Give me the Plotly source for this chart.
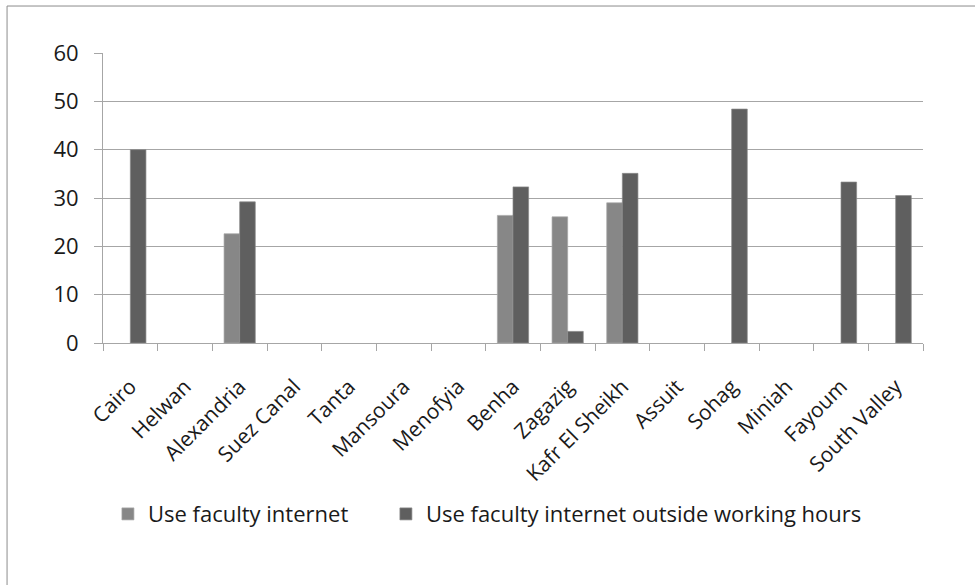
import plotly.graph_objects as go

universities = ["Cairo", "Helwan", "Alexandria", "Suez Canal", "Tanta", "Mansoura",
                "Menofyia", "Benha", "Zagazig", "Kafr El Sheikh", "Assuit", "Sohag",
                "Miniah", "Fayoum", "South Valley"]
# None = no bar reported for that university
use_internet = [None, None, 22.6, None, None, None, None, 26.4, 26.1, 29.0,
                None, None, None, None, None]
use_outside_hours = [40.0, None, 29.2, None, None, None, None, 32.3, 2.4, 35.1,
                     None, 48.4, None, 33.3, 30.5]
y_ticks = [0, 10, 20, 30, 40, 50, 60]

FONT = "Open Sans"
TXT = "#1a1a1a"
GRID = "#a6a6a6"

fig = go.Figure()
fig.add_trace(go.Bar(
    x=universities, y=use_internet, name="Use faculty internet",
    marker=dict(color="#878787", line=dict(color="#a8a8a8", width=0.7)),
    legend="legend",
))
fig.add_trace(go.Bar(
    x=universities, y=use_outside_hours, name="Use faculty internet outside working hours",
    marker=dict(color="#5f5f5f", line=dict(color="#8a8a8a", width=0.7)),
    legend="legend2",
))

legend_common = dict(orientation="h", xanchor="left", y=-0.59, yanchor="middle",
                     font=dict(family=FONT, size=22, color=TXT),
                     itemwidth=30, bgcolor="rgba(0,0,0,0)")

fig.update_layout(
    width=975, height=585,
    margin=dict(l=103, r=52, t=53, b=242),
    paper_bgcolor="white", plot_bgcolor="white",
    barmode="group", bargap=0.4286, bargroupgap=0,
    font=dict(family=FONT, size=21, color=TXT),
    showlegend=True,
    legend=dict(x=0.006, **legend_common),
    legend2=dict(x=0.345, **legend_common),
    shapes=[dict(type="rect", xref="paper", yref="paper",
                 x0=-0.117, x1=1.2, y0=-1.2, y1=1.162,
                 line=dict(color="#8c8c8c", width=1), fillcolor="rgba(0,0,0,0)",
                 layer="below")],
)

fig.update_xaxes(
    type="category", tickangle=-45, tickson="boundaries",
    ticks="outside", ticklen=7, tickcolor=GRID, tickwidth=1,
    showline=True, linecolor=GRID, linewidth=1, showgrid=False,
    tickfont=dict(family=FONT, size=21, color=TXT),
    ticklabelstandoff=22,
)
fig.update_yaxes(
    range=[0, 60], tickvals=y_ticks, ticks="outside", ticklen=8, tickcolor=GRID,
    showline=True, linecolor=GRID, linewidth=1,
    showgrid=True, gridcolor=GRID, gridwidth=1, zeroline=False,
    tickfont=dict(family=FONT, size=22, color=TXT),
    ticklabelstandoff=11,
)

fig.write_html("out.html")
